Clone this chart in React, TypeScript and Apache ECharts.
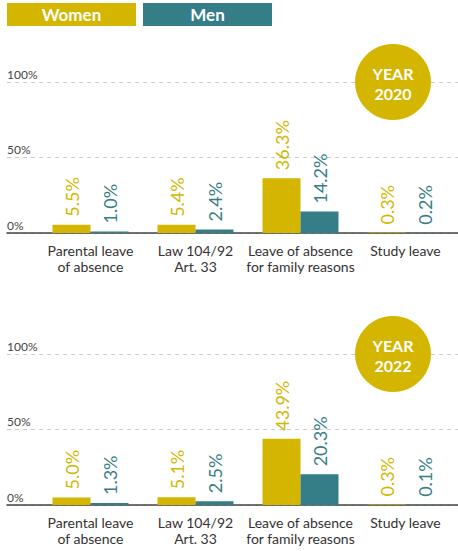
import React, { useEffect, useRef } from "react";
import * as echarts from "echarts";

const categories = ["Parental leave\nof absence", "Law 104/92\nArt. 33", "Leave of absence\nfor family reasons", "Study leave"];
const women2020 = [5.5, 5.4, 36.3, 0.3];
const men2020 = [1.0, 2.4, 14.2, 0.2];
const women2022 = [5.0, 5.1, 43.9, 0.3];
const men2022 = [1.3, 2.5, 20.3, 0.1];
const yearLabels = ["2020", "2022"];
const seriesNames = ["Women", "Men"];

const GOLD = "#D4B600";
const TEAL = "#367E87";
const FONT = "Lato";

export default function App() {
  const ref = useRef<HTMLDivElement>(null);
  useEffect(() => {
    if (!ref.current) return;
    const chart = echarts.init(ref.current, undefined, { renderer: "svg" });
    const tops = [82, 354];
    const H = 151;
    const grids: any[] = [];
    const xAxes: any[] = [];
    const yAxes: any[] = [];
    const series: any[] = [];
    const graphics: any[] = [];
    const datasets = [
      [women2020, men2020],
      [women2022, men2022],
    ];
    tops.forEach((top, p) => {
      const gA = grids.length;
      grids.push({ left: 7, top, width: 451, height: H });
      grids.push({ left: 38, top, width: 424, height: H });
      xAxes.push({
        type: "value",
        gridIndex: gA,
        min: 0,
        max: 1,
        axisLabel: { show: false },
        axisTick: { show: false },
        splitLine: { show: false },
        axisLine: { show: true, lineStyle: { color: "#444", width: 1.5 } },
      });
      xAxes.push({
        type: "category",
        gridIndex: gA + 1,
        data: categories,
        axisLine: { show: false },
        axisTick: { show: false },
        axisLabel: {
          color: "#333",
          fontFamily: FONT,
          fontSize: 14,
          lineHeight: 16,
          margin: 9,
          interval: 0,
        },
      });
      yAxes.push({
        type: "value",
        gridIndex: gA,
        min: 0,
        max: 100,
        interval: 50,
        axisLine: { show: false },
        axisTick: { show: false },
        axisLabel: {
          inside: true,
          margin: 0,
          align: "left",
          verticalAlign: "bottom",
          padding: [0, 0, 2, 0],
          formatter: "{value}%",
          color: "#444",
          fontFamily: FONT,
          fontSize: 12,
        },
        splitLine: { show: true, lineStyle: { color: "#ccc", type: [4, 4], width: 1 } },
      });
      yAxes.push({
        type: "value",
        gridIndex: gA + 1,
        min: 0,
        max: 100,
        show: false,
        splitLine: { show: false },
      });
      const xi = xAxes.length - 1;
      const yi = yAxes.length - 1;
      [GOLD, TEAL].forEach((color, s) => {
        series.push({
          type: "bar",
          name: seriesNames[s] + " " + yearLabels[p],
          xAxisIndex: xi,
          yAxisIndex: yi,
          data: datasets[p][s],
          barWidth: 38,
          barGap: "0%",
          itemStyle: { color },
          label: {
            show: true,
            position: "top",
            rotate: 90,
            align: "left",
            verticalAlign: "middle",
            distance: 8,
            color,
            fontFamily: FONT,
            fontSize: 18,
            formatter: (v: any) => v.value.toFixed(1) + "%",
          },
        });
      });
      graphics.push({
        type: "circle",
        z: 10,
        shape: { cx: 393, cy: top, r: 38 },
        style: { fill: GOLD },
      });
      graphics.push({
        type: "text",
        z: 11,
        x: 393,
        y: top - 9,
        style: { text: "YEAR", fill: "#fff", fontFamily: FONT, fontWeight: "bold", fontSize: 16, align: "center", verticalAlign: "middle" },
      });
      graphics.push({
        type: "text",
        z: 11,
        x: 393,
        y: top + 11,
        style: { text: yearLabels[p], fill: "#fff", fontFamily: FONT, fontWeight: "bold", fontSize: 16, align: "center", verticalAlign: "middle" },
      });
    });
    [GOLD, TEAL].forEach((color, s) => {
      const x = 7 + s * 136;
      graphics.push({ type: "rect", z: 10, shape: { x, y: 3, width: 129, height: 23 }, style: { fill: color } });
      graphics.push({
        type: "text",
        z: 11,
        x: x + 64.5,
        y: 14.5,
        style: { text: seriesNames[s], fill: "#fff", fontFamily: FONT, fontWeight: "bold", fontSize: 17, align: "center", verticalAlign: "middle" },
      });
    });
    chart.setOption({
      animation: false,
      backgroundColor: "#fff",
      grid: grids,
      xAxis: xAxes,
      yAxis: yAxes,
      series,
      graphic: graphics,
    });
    return () => chart.dispose();
  }, []);
  return <div ref={ref} style={{ position: "absolute", left: 0, top: 0, width: 458, height: 551 }} />;
}
